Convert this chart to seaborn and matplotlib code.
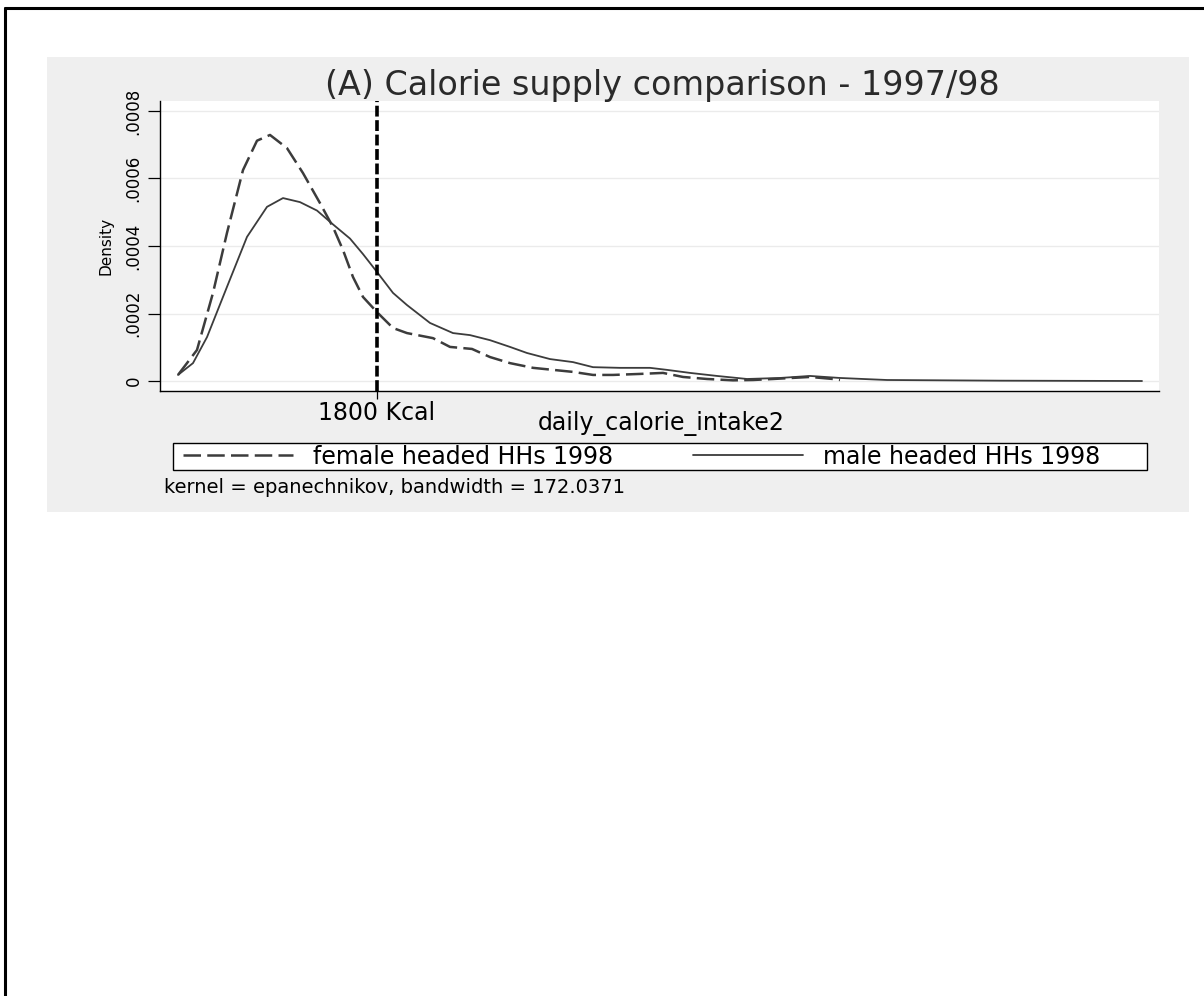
import pandas as pd
import matplotlib
matplotlib.use("Agg")
from matplotlib import pyplot as plt
from matplotlib.patches import Rectangle
from matplotlib.lines import Line2D
import seaborn as sns

# kernel density estimates (kcal, density)
female_kcal = [212, 364, 492, 604, 732, 844, 948, 1084, 1212, 1348, 1452, 1532,
               1612, 1692, 1804, 1932, 2044, 2252, 2388, 2564, 2708, 2868, 3052,
               3212, 3372, 3532, 3692, 3908, 4092, 4252, 4444, 4652, 4812, 4972,
               5268, 5452, 5508]
female_dens = [0.000018, 0.000092, 0.000261, 0.000439, 0.000625, 0.000712,
               0.000729, 0.000690, 0.000616, 0.000527, 0.000456, 0.000388,
               0.000308, 0.000249, 0.000204, 0.000157, 0.000142, 0.000127,
               0.000101, 0.000095, 0.000071, 0.000053, 0.000039, 0.000033,
               0.000027, 0.000018, 0.000018, 0.000021, 0.000024, 0.000012,
               0.000006, 0.000002, 0.000003, 0.000006, 0.000012, 0.000006,
               0.000003]

male_kcal = [212, 332, 444, 604, 764, 924, 1052, 1188, 1324, 1452, 1588, 1692,
             1804, 1932, 2044, 2228, 2412, 2548, 2708, 2868, 3004, 3188, 3372,
             3532, 3748, 3988, 4124, 4308, 4524, 4764, 5028, 5268, 5508, 5692,
             5884, 6788, 7924]
male_dens = [0.000018, 0.000053, 0.000130, 0.000279, 0.000427, 0.000516,
             0.000542, 0.000530, 0.000505, 0.000464, 0.000422, 0.000376,
             0.000323, 0.000261, 0.000225, 0.000172, 0.000142, 0.000136,
             0.000121, 0.000101, 0.000083, 0.000065, 0.000056, 0.000041,
             0.000039, 0.000039, 0.000033, 0.000024, 0.000015, 0.000006,
             0.000009, 0.000015, 0.000009, 0.000006, 0.000003, 0.000001,
             0.000000]

yticks = [0, 0.0002, 0.0004, 0.0006, 0.0008]
ytick_labels = ["0", ".0002", ".0004", ".0006", ".0008"]
cutoff = 1800

df = pd.concat([
    pd.DataFrame({"kcal": female_kcal, "density": female_dens,
                  "group": "female headed HHs 1998"}),
    pd.DataFrame({"kcal": male_kcal, "density": male_dens,
                  "group": "male headed HHs 1998"}),
])

sns.set_theme(style="white")
plt.rcParams["font.family"] = ["DejaVu Sans"]
plt.rcParams["text.color"] = "black"
plt.rcParams["axes.labelcolor"] = "black"
plt.rcParams["xtick.color"] = "black"
plt.rcParams["ytick.color"] = "black"

W, H = 1204, 996
fig = plt.figure(figsize=(W / 100, H / 100), dpi=100)
fig.patch.set_facecolor("white")

# gray panel, legend box and the frame lines on top/left
fig.patches.append(Rectangle((47 / W, 1 - 512 / H), 1142 / W, 455 / H,
                             transform=fig.transFigure, facecolor="#efefef",
                             edgecolor="none", zorder=-2))
fig.patches.append(Rectangle((173 / W, 1 - 470 / H), 974 / W, 27 / H,
                             transform=fig.transFigure, facecolor="white",
                             edgecolor="black", lw=1, zorder=-1))
fig.lines.append(Line2D([5 / W, 1], [1 - 8 / H, 1 - 8 / H], transform=fig.transFigure,
                        color="black", lw=2.2))
fig.lines.append(Line2D([5 / W, 5 / W], [0, 1 - 8 / H], transform=fig.transFigure,
                        color="black", lw=2.2))

ax = fig.add_axes([160 / W, 1 - 391 / H, 999 / W, 290 / H])
ax.set_facecolor("white")

line_col = "#3c3c3c"
sns.lineplot(data=df[df.group == "female headed HHs 1998"], x="kcal", y="density",
             color=line_col, lw=1.8, label="female headed HHs 1998", ax=ax)
sns.lineplot(data=df[df.group == "male headed HHs 1998"], x="kcal", y="density",
             color=line_col, lw=1.3, label="male headed HHs 1998", ax=ax)
ax.lines[0].set_dashes((7, 2.5))

ax.axvline(cutoff, color="black", lw=2.6, dashes=(3, 1), zorder=5)

ax.set_xlim(68, 8060)
ax.set_ylim(-0.0000296, 0.0008296)
ax.set_yticks(yticks)
ax.set_yticklabels(ytick_labels, rotation=90, va="center", fontsize=12)
ax.set_xticks([cutoff])
ax.set_xticklabels(["1800 Kcal"], fontsize=17)
ax.tick_params(axis="y", length=8.5, width=0.9, pad=4, left=True)
ax.tick_params(axis="x", length=6, width=0.9, pad=1, bottom=True)
ax.yaxis.grid(True, color="#ebebeb", lw=1)
ax.xaxis.grid(False)
for s in ["top", "right"]:
    ax.spines[s].set_visible(False)
for s in ["left", "bottom"]:
    ax.spines[s].set_color("black")
    ax.spines[s].set_linewidth(1)

ax.set_xlabel("")
ax.set_ylabel("Density", fontsize=11, labelpad=8)

fig.text(662 / W, 1 - 86 / H, "(A) Calorie supply comparison - 1997/98",
         ha="center", va="center", fontsize=24, color="#2a2a2a")
fig.text(661 / W, 1 - 424 / H, "daily_calorie_intake2", ha="center", va="center",
         fontsize=17)
fig.text(164 / W, 1 - 487 / H, "kernel = epanechnikov, bandwidth = 172.0371",
         ha="left", va="center", fontsize=14)

handles, labels = ax.get_legend_handles_labels()
ax.get_legend().remove()
leg = fig.legend(handles, labels, loc="center left", ncol=2,
                 bbox_to_anchor=(183 / W, 1 - 456.5 / H), borderaxespad=0,
                 borderpad=0, fontsize=17, handlelength=4.65, handletextpad=0.85,
                 columnspacing=3.4, frameon=False)

fig.savefig("out.png", dpi=100)
